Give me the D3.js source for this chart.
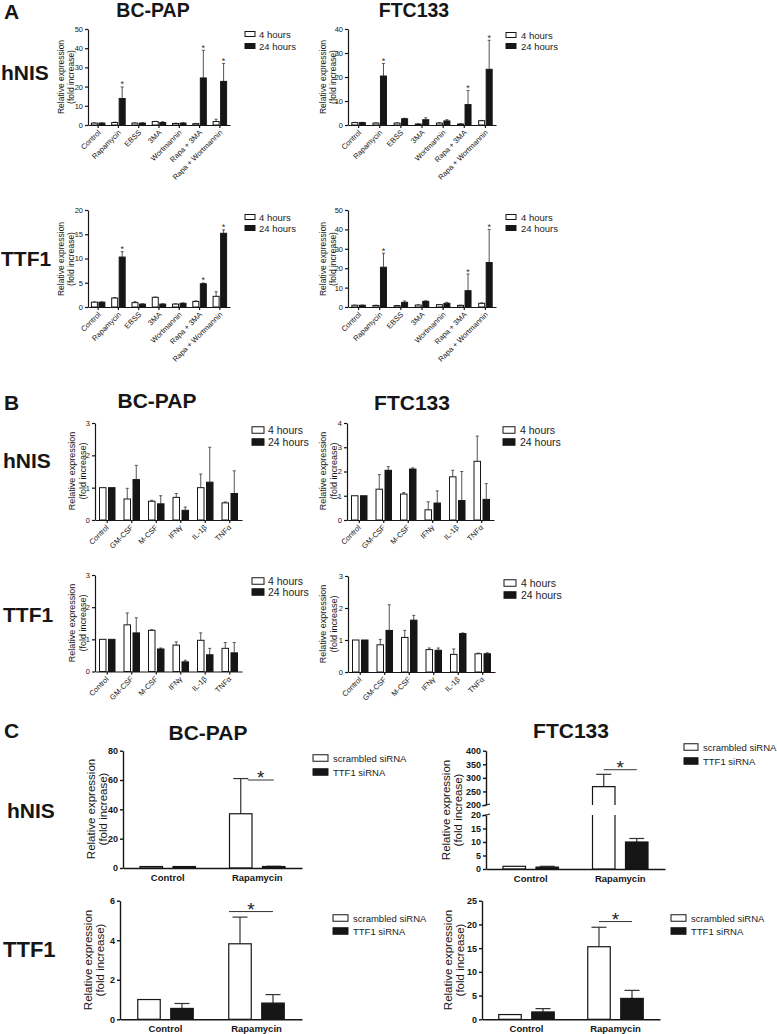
<!DOCTYPE html>
<html><head><meta charset="utf-8">
<script src="https://cdn.jsdelivr.net/npm/d3@7"></script>
<style>body{margin:0;background:#fff} svg{display:block}</style>
</head><body><svg id="c" width="777" height="1034"></svg>
<script>
// ---------------- DATA ----------------
const catsA = ["Control","Rapamycin","EBSS","3MA","Wortmannin","Rapa + 3MA","Rapa + Wortmannin"];
const catsB = ["Control","GM-CSF","M-CSF","IFNγ","IL-1β","TNFα"];
const catsC = ["Control","Rapamycin"];
const seriesAB = ["4 hours","24 hours"];
const seriesC = ["scrambled siRNA","TTF1 siRNA"];
const starIdxA = [1,5,6];

// Panel A – hNIS BC-PAP
const aNisBc4h = [1.0,1.3,1.0,1.8,0.8,0.7,1.8];
const aNisBc4hErr = [0.1,0.2,0.1,0.1,0.1,0.1,1.2];
const aNisBc24h = [1.0,13.8,1.0,1.3,1.0,24.5,22.7];
const aNisBc24hErr = [0.1,6.0,0.2,0.4,0.2,14.4,9.3];
// Panel A – hNIS FTC133
const aNisFtc4h = [1.0,0.8,0.8,0.4,0.8,0.4,1.8];
const aNisFtc4hErr = [0.1,0.1,0.1,0.1,0.2,0.1,0.1];
const aNisFtc24h = [1.0,20.4,2.6,2.2,1.7,8.5,23.2];
const aNisFtc24hErr = [0.1,5.2,0.2,0.8,0.5,5.9,12.1];
// Panel A – TTF1 BC-PAP
const aTtfBc4h = [1.0,1.85,0.9,2.0,0.6,1.15,2.2];
const aTtfBc4hErr = [0.05,0.1,0.2,0.05,0.05,0.1,0.95];
const aTtfBc24h = [1.0,10.3,0.6,0.6,0.75,4.8,15.2];
const aTtfBc24hErr = [0.05,1.1,0.05,0.05,0.1,0.15,0.7];
// Panel A – TTF1 FTC133
const aTtfFtc4h = [0.9,0.8,0.7,1.0,1.2,0.85,1.9];
const aTtfFtc4hErr = [0.1,0.1,0.1,0.1,0.1,0.1,0.2];
const aTtfFtc24h = [0.9,20.5,2.4,2.9,1.9,8.4,22.9];
const aTtfFtc24hErr = [0.1,7.2,0.7,0.3,0.5,8.6,17.1];

// Panel B – hNIS BC-PAP
const bNisBc4h = [1.0,0.65,0.58,0.7,1.0,0.53];
const bNisBc4hErr = [0,0.33,0.03,0.12,0.42,0.03];
const bNisBc24h = [1.0,1.25,0.5,0.3,1.17,0.82];
const bNisBc24hErr = [0,0.44,0.25,0.1,1.08,0.7];
// Panel B – hNIS FTC133
const bNisFtc4h = [1.0,1.27,1.07,0.42,1.78,2.42];
const bNisFtc4hErr = [0,0.6,0.06,0.33,0.27,1.04];
const bNisFtc24h = [1.0,2.05,2.1,0.7,0.8,0.85];
const bNisFtc24hErr = [0,0.15,0.05,0.5,1.2,0.65];
// Panel B – TTF1 BC-PAP
const bTtfBc4h = [1.0,1.45,1.28,0.82,0.97,0.72];
const bTtfBc4hErr = [0,0.37,0.02,0.1,0.23,0.18];
const bTtfBc24h = [1.0,1.2,0.7,0.3,0.52,0.58];
const bTtfBc24hErr = [0,0.47,0.03,0.05,0.2,0.32];
// Panel B – TTF1 FTC133
const bTtfFtc4h = [1.0,0.85,1.08,0.7,0.55,0.57];
const bTtfFtc4hErr = [0,0.17,0.22,0.05,0.17,0.02];
const bTtfFtc24h = [1.0,1.3,1.62,0.68,1.2,0.57];
const bTtfFtc24hErr = [0,0.8,0.15,0.07,0.02,0.03];

// Panel C
const cNisBcScr = [1.0,37], cNisBcScrErr = [0,24];
const cNisBcSi = [1.0,1.0], cNisBcSiErr = [0,0.2];
const cNisFtcScr = [1.0,268], cNisFtcScrErr = [0,45];
const cNisFtcSi = [0.7,10], cNisFtcSiErr = [0.3,1.3];
const cTtfBcScr = [1.0,3.82], cTtfBcScrErr = [0,1.35];
const cTtfBcSi = [0.55,0.82], cTtfBcSiErr = [0.25,0.43];
const cTtfFtcScr = [1.0,15.3], cTtfFtcScrErr = [0,4.1];
const cTtfFtcSi = [1.55,4.4], cTtfFtcSiErr = [0.7,1.7];
const cSigLevels = [60, 330, 5.45, 20.6];

// tick values
const ticksA1 = [0,10,20,30,40,50], ticksA2 = [0,10,20,30,40], ticksA3 = [0,5,10,15,20], ticksA4 = [0,10,20,30,40,50];
const ticksB3 = [0,1,2,3], ticksB4 = [0,1,2,3,4];
const ticksC1 = [0,20,40,60,80], ticksC2low = [0,5,10,15,20], ticksC2high = [200,250,300,350,400];
const ticksC3 = [0,2,4,6], ticksC4 = [0,5,10,15,20,25];

// ---------------- DRAWING ----------------
const FONT = '"Liberation Sans", Arial, Helvetica, sans-serif';
const INK = "#161616";
const svg = d3.select("#c");

function text(x, y, s, size, opts = {}) {
  const t = svg.append("text").attr("x", x).attr("y", y).text(s)
    .attr("font-family", FONT).attr("font-size", size).attr("fill", opts.fill || INK)
    .attr("text-anchor", opts.anchor || "start");
  if (opts.bold) t.attr("font-weight", "bold");
  return t;
}
function ylabel(x1, x2, yc, size, bold) {
  [["Relative expression", x1], ["(fold increase)", x2]].forEach(([s, x]) => {
    svg.append("text").text(s).attr("font-family", FONT).attr("font-size", size).attr("fill", INK)
      .attr("font-weight", bold ? "bold" : "normal")
      .attr("text-anchor", "middle").attr("dominant-baseline", "central")
      .attr("transform", `translate(${x},${yc}) rotate(-90)`);
  });
}
function legend(bx, y1, y2, labels, bw, bh, tx, size) {
  [[y1, "#fff", labels[0]], [y2, INK, labels[1]]].forEach(([y, f, l]) => {
    svg.append("rect").attr("x", bx).attr("y", y - bh / 2).attr("width", bw).attr("height", bh)
      .attr("fill", f).attr("stroke", INK).attr("stroke-width", 1);
    svg.append("text").text(l).attr("x", tx).attr("y", y).attr("dominant-baseline", "central")
      .attr("font-family", FONT).attr("font-size", size).attr("fill", "#222");
  });
}

function grouped(cfg) {
  const g = svg.append("g");
  const x = d3.scaleBand().domain(cfg.cats).range([cfg.x0, cfg.x1]);
  const y = d3.scaleLinear().domain(cfg.dom).range([cfg.yb, cfg.yt]);
  const bw = cfg.barW, gp = cfg.gap;
  const cx = c => x(c) + x.bandwidth() / 2;
  const series = [
    { v: cfg.v1, e: cfg.e1, fill: "#fff", off: -gp / 2 - bw },
    { v: cfg.v2, e: cfg.e2, fill: INK, off: gp / 2 }
  ];
  series.forEach((s, si) => {
    // error bars first (behind nothing visible)
    cfg.cats.forEach((c, i) => {
      if (s.e[i] > 0) {
        const bx = cx(c) + s.off + bw / 2, yt = y(s.v[i] + s.e[i]), yv = y(s.v[i]);
        g.append("line").attr("x1", bx).attr("x2", bx).attr("y1", yv).attr("y2", yt)
          .attr("stroke", cfg.errC).attr("stroke-width", cfg.errW);
        g.append("line").attr("x1", bx - cfg.cap / 2).attr("x2", bx + cfg.cap / 2).attr("y1", yt).attr("y2", yt)
          .attr("stroke", cfg.errC).attr("stroke-width", cfg.errW);
      }
    });
    g.selectAll(null).data(cfg.cats).enter().append("rect")
      .attr("x", c => cx(c) + s.off).attr("y", (c, i) => y(s.v[i]))
      .attr("width", bw).attr("height", (c, i) => cfg.yb - y(s.v[i]))
      .attr("fill", s.fill).attr("stroke", INK).attr("stroke-width", cfg.sw || 1);
    if (si === 1 && cfg.stars) {
      cfg.stars.forEach(i => {
        const c = cfg.cats[i];
        g.append("text").text("*").attr("x", cx(c) + s.off + bw / 2).attr("y", y(s.v[i] + s.e[i]) + 0.5)
          .attr("text-anchor", "middle").attr("font-family", FONT).attr("font-size", 9).attr("fill", "#333");
      });
    }
  });
  // y axis
  const ya = g.append("g").attr("transform", `translate(${cfg.x0},0)`)
    .call(d3.axisLeft(y).tickValues(cfg.ticks).tickSize(3).tickSizeOuter(0).tickPadding(2).tickFormat(d3.format("d")));
  ya.selectAll("path,line").attr("stroke", INK).attr("stroke-width", cfg.axW);
  ya.selectAll("text").attr("font-family", FONT).attr("font-size", cfg.tickFont).attr("fill", INK)
    .attr("font-weight", cfg.boldTicks ? "bold" : "normal");
  // x axis
  const xa = g.append("g").attr("transform", `translate(0,${cfg.yb})`)
    .call(d3.axisBottom(x).tickSize(cfg.xTick).tickSizeOuter(0));
  xa.selectAll("text").remove();
  xa.selectAll("path,line").attr("stroke", INK).attr("stroke-width", cfg.axW);
  if (cfg.rotate) {
    cfg.cats.forEach(c => {
      const px = cx(c) + cfg.ldx, py = cfg.yb + cfg.ldy;
      g.append("text").text(c).attr("x", px).attr("y", py).attr("text-anchor", "end")
        .attr("transform", `rotate(-45,${px},${py})`)
        .attr("font-family", FONT).attr("font-size", cfg.catFont).attr("fill", INK);
    });
  } else {
    cfg.cats.forEach(c => {
      g.append("text").text(c).attr("x", cx(c)).attr("y", cfg.yb + cfg.ldy).attr("text-anchor", "middle")
        .attr("font-family", FONT).attr("font-size", cfg.catFont).attr("font-weight", "bold").attr("fill", INK);
    });
  }
  if (cfg.sig !== undefined) {
    const c = cfg.cats[1];
    const xa1 = cx(c) + series[0].off + bw / 2 + cfg.sigDx, xa2 = cx(c) + series[1].off + bw / 2;
    const ys = y(cfg.sig);
    g.append("line").attr("x1", xa1).attr("x2", xa2).attr("y1", ys).attr("y2", ys).attr("stroke", "#333").attr("stroke-width", 1);
    g.append("text").text("*").attr("x", (xa1 + xa2) / 2).attr("y", ys + 4).attr("text-anchor", "middle")
      .attr("font-family", FONT).attr("font-size", 19).attr("fill", "#222");
  }
  return { x, y };
}

// common styles
const stA = { cats: catsA, barW: 6, gap: 1.5, errC: "#555", errW: 1, cap: 3, axW: 1.2, tickFont: 7.5, xTick: 3, rotate: true, ldx: 3, ldy: 8, catFont: 7.5, stars: starIdxA };
const stB = { cats: catsB, barW: 6.5, gap: 2.5, errC: "#555", errW: 1, cap: 3, axW: 1.2, tickFont: 7.5, xTick: 3, rotate: true, ldx: 2, ldy: 8, catFont: 7.5 };
const stC = { cats: catsC, barW: 22.5, gap: 10.5, errC: "#333", errW: 1.2, cap: 15, axW: 1.4, tickFont: 9, boldTicks: true, xTick: 0, rotate: false, ldy: 12.5, catFont: 9.5, sw: 1.2 };

// ---- Panel A ----
text(4, 19, "A", 21, { bold: true });
text(153, 17, "BC-PAP", 19.5, { bold: true, anchor: "middle" });
text(414, 17, "FTC133", 19.5, { bold: true, anchor: "middle" });
text(1, 80, "hNIS", 21, { bold: true });
text(1, 266, "TTF1", 21, { bold: true });

grouped({ ...stA, x0: 88, x1: 230, yb: 125, yt: 29, dom: [0, 50], ticks: ticksA1, v1: aNisBc4h, e1: aNisBc4hErr, v2: aNisBc24h, e2: aNisBc24hErr });
grouped({ ...stA, x0: 348, x1: 496, yb: 125, yt: 29, dom: [0, 40], ticks: ticksA2, v1: aNisFtc4h, e1: aNisFtc4hErr, v2: aNisFtc24h, e2: aNisFtc24hErr });
grouped({ ...stA, x0: 88, x1: 230, yb: 307, yt: 210, dom: [0, 20], ticks: ticksA3, v1: aTtfBc4h, e1: aTtfBc4hErr, v2: aTtfBc24h, e2: aTtfBc24hErr });
grouped({ ...stA, x0: 348, x1: 496, yb: 307, yt: 210, dom: [0, 50], ticks: ticksA4, v1: aTtfFtc4h, e1: aTtfFtc4hErr, v2: aTtfFtc24h, e2: aTtfFtc24hErr });
ylabel(61, 71, 77, 8.5); ylabel(323, 333, 77, 8.5);
ylabel(61, 71, 259, 8.5); ylabel(323, 333, 259, 8.5);
legend(245, 34, 46, seriesAB, 10, 5, 259, 9.5);
legend(506, 35, 46, seriesAB, 10, 5, 521, 9.5);
legend(245, 217, 228, seriesAB, 10, 5, 259, 9.5);
legend(506, 217, 228, seriesAB, 10, 5, 521, 9.5);

// ---- Panel B ----
text(4, 410, "B", 21, { bold: true });
text(157, 408, "BC-PAP", 21, { bold: true, anchor: "middle" });
text(412, 410, "FTC133", 21, { bold: true, anchor: "middle" });
text(3, 468, "hNIS", 21, { bold: true });
text(3, 622, "TTF1", 21, { bold: true });

grouped({ ...stB, x0: 95, x1: 242, yb: 520, yt: 423, dom: [0, 3], ticks: ticksB3, v1: bNisBc4h, e1: bNisBc4hErr, v2: bNisBc24h, e2: bNisBc24hErr });
grouped({ ...stB, x0: 347, x1: 494, yb: 520, yt: 423, dom: [0, 4], ticks: ticksB4, v1: bNisFtc4h, e1: bNisFtc4hErr, v2: bNisFtc24h, e2: bNisFtc24hErr });
grouped({ ...stB, x0: 95, x1: 242, yb: 671.5, yt: 575, dom: [0, 3], ticks: ticksB3, v1: bTtfBc4h, e1: bTtfBc4hErr, v2: bTtfBc24h, e2: bTtfBc24hErr });
grouped({ ...stB, x0: 348, x1: 495, yb: 672, yt: 576, dom: [0, 3], ticks: ticksB3, v1: bTtfFtc4h, e1: bTtfFtc4hErr, v2: bTtfFtc24h, e2: bTtfFtc24hErr });
ylabel(72, 83, 471, 9); ylabel(323, 334, 471, 9);
ylabel(72, 83, 623, 9); ylabel(323, 334, 624, 9);
legend(252, 430, 442, seriesAB, 12, 6.5, 268, 10.5);
legend(503, 430, 442, seriesAB, 12, 6.5, 520, 10.5);
legend(252, 581, 592, seriesAB, 12, 6.5, 268, 10.5);
legend(504, 583, 595, seriesAB, 12, 6.5, 521, 10.5);

// ---- Panel C ----
text(4, 738, "C", 21, { bold: true });
text(208, 740, "BC-PAP", 21, { bold: true, anchor: "middle" });
text(571, 738, "FTC133", 21, { bold: true, anchor: "middle" });
text(7, 818, "hNIS", 21, { bold: true });
text(3, 957, "TTF1", 22, { bold: true });

grouped({ ...stC, x0: 123, x1: 302, yb: 868, yt: 750.7, dom: [0, 80], ticks: ticksC1, v1: cNisBcScr, e1: cNisBcScrErr, v2: cNisBcSi, e2: cNisBcSiErr, sig: cSigLevels[0], sigDx: 7 });
grouped({ ...stC, x0: 120, x1: 302, yb: 1019.3, yt: 900.7, dom: [0, 6], ticks: ticksC3, v1: cTtfBcScr, e1: cTtfBcScrErr, v2: cTtfBcSi, e2: cTtfBcSiErr, sig: cSigLevels[2], sigDx: -11 });
grouped({ ...stC, x0: 482, x1: 660, yb: 1019.3, yt: 900.7, dom: [0, 25], ticks: ticksC4, v1: cTtfFtcScr, e1: cTtfFtcScrErr, v2: cTtfFtcSi, e2: cTtfFtcSiErr, sig: cSigLevels[3], sigDx: 0 });

// broken-axis chart (C hNIS FTC133)
(function () {
  const g = svg.append("g");
  const x0 = 486, x1 = 665, yb = 869;
  const x = d3.scaleBand().domain(catsC).range([x0, x1]);
  const yL = d3.scaleLinear().domain([0, 20]).range([yb, 815]);
  const yU = d3.scaleLinear().domain([200, 400]).range([805, 750.7]);
  const yy = v => v <= 20 ? yL(v) : yU(v);
  const bw = stC.barW, gp = stC.gap;
  const cx = c => x(c) + x.bandwidth() / 2;
  const ser = [
    { v: cNisFtcScr, e: cNisFtcScrErr, fill: "#fff", off: -gp / 2 - bw },
    { v: cNisFtcSi, e: cNisFtcSiErr, fill: INK, off: gp / 2 }
  ];
  ser.forEach(s => {
    catsC.forEach((c, i) => {
      const bx = cx(c) + s.off, v = s.v[i];
      if (s.e[i] > 0) {
        const m = bx + bw / 2, t = yy(v + s.e[i]);
        g.append("line").attr("x1", m).attr("x2", m).attr("y1", yy(v)).attr("y2", t).attr("stroke", "#333").attr("stroke-width", 1.2);
        g.append("line").attr("x1", m - 7.5).attr("x2", m + 7.5).attr("y1", t).attr("y2", t).attr("stroke", "#333").attr("stroke-width", 1.2);
      }
      if (v <= 20) {
        g.append("rect").attr("x", bx).attr("y", yL(v)).attr("width", bw).attr("height", yb - yL(v))
          .attr("fill", s.fill).attr("stroke", INK).attr("stroke-width", 1.2);
      } else {
        g.append("path").attr("d", `M${bx},${yL(20)}V${yb}H${bx + bw}V${yL(20)}`)
          .attr("fill", s.fill).attr("stroke", INK).attr("stroke-width", 1.2);
        g.append("path").attr("d", `M${bx},${yU(200)}V${yU(v)}H${bx + bw}V${yU(200)}`)
          .attr("fill", s.fill).attr("stroke", INK).attr("stroke-width", 1.2);
      }
    });
  });
  const fmt = d3.format("d");
  [[yL, ticksC2low], [yU, ticksC2high]].forEach(([sc, tk]) => {
    const a = g.append("g").attr("transform", `translate(${x0},0)`)
      .call(d3.axisLeft(sc).tickValues(tk).tickSize(3).tickSizeOuter(0).tickPadding(2).tickFormat(fmt));
    a.selectAll("path,line").attr("stroke", INK).attr("stroke-width", 1.4);
    a.selectAll("text").attr("font-family", FONT).attr("font-size", 9).attr("font-weight", "bold").attr("fill", INK);
  });
  // break marks
  [yU(200), yL(20)].forEach(yv => {
    g.append("line").attr("x1", x0 - 4).attr("x2", x0 + 4).attr("y1", yv + 1).attr("y2", yv - 1).attr("stroke", INK).attr("stroke-width", 1.2);
  });
  const xa = g.append("g").attr("transform", `translate(0,${yb})`).call(d3.axisBottom(x).tickSize(0).tickSizeOuter(0));
  xa.selectAll("text").remove();
  xa.selectAll("path").attr("stroke", INK).attr("stroke-width", 1.4);
  catsC.forEach(c => {
    g.append("text").text(c).attr("x", cx(c)).attr("y", yb + 12.5).attr("text-anchor", "middle")
      .attr("font-family", FONT).attr("font-size", 9.5).attr("font-weight", "bold").attr("fill", INK);
  });
  const c = catsC[1];
  const s1 = cx(c) + ser[0].off + bw / 2, s2 = cx(c) + ser[1].off + bw / 2, ys = yU(cSigLevels[1]);
  g.append("line").attr("x1", s1).attr("x2", s2).attr("y1", ys).attr("y2", ys).attr("stroke", "#333").attr("stroke-width", 1);
  g.append("text").text("*").attr("x", (s1 + s2) / 2).attr("y", ys + 4).attr("text-anchor", "middle")
    .attr("font-family", FONT).attr("font-size", 19).attr("fill", "#222");
})();

ylabel(91, 103, 809, 11.5); ylabel(446, 458, 810, 11.5);
ylabel(88, 100, 960, 11.5); ylabel(448, 460, 960, 11.5);
legend(313, 758, 772, seriesC, 15, 6.5, 333, 9.5);
legend(684, 747, 761, seriesC, 14, 6.5, 703, 9.5);
legend(333, 918, 931, seriesC, 15, 6.5, 353, 9.5);
legend(671, 918, 931, seriesC, 15, 6.5, 691, 9.5);
</script></body></html>
